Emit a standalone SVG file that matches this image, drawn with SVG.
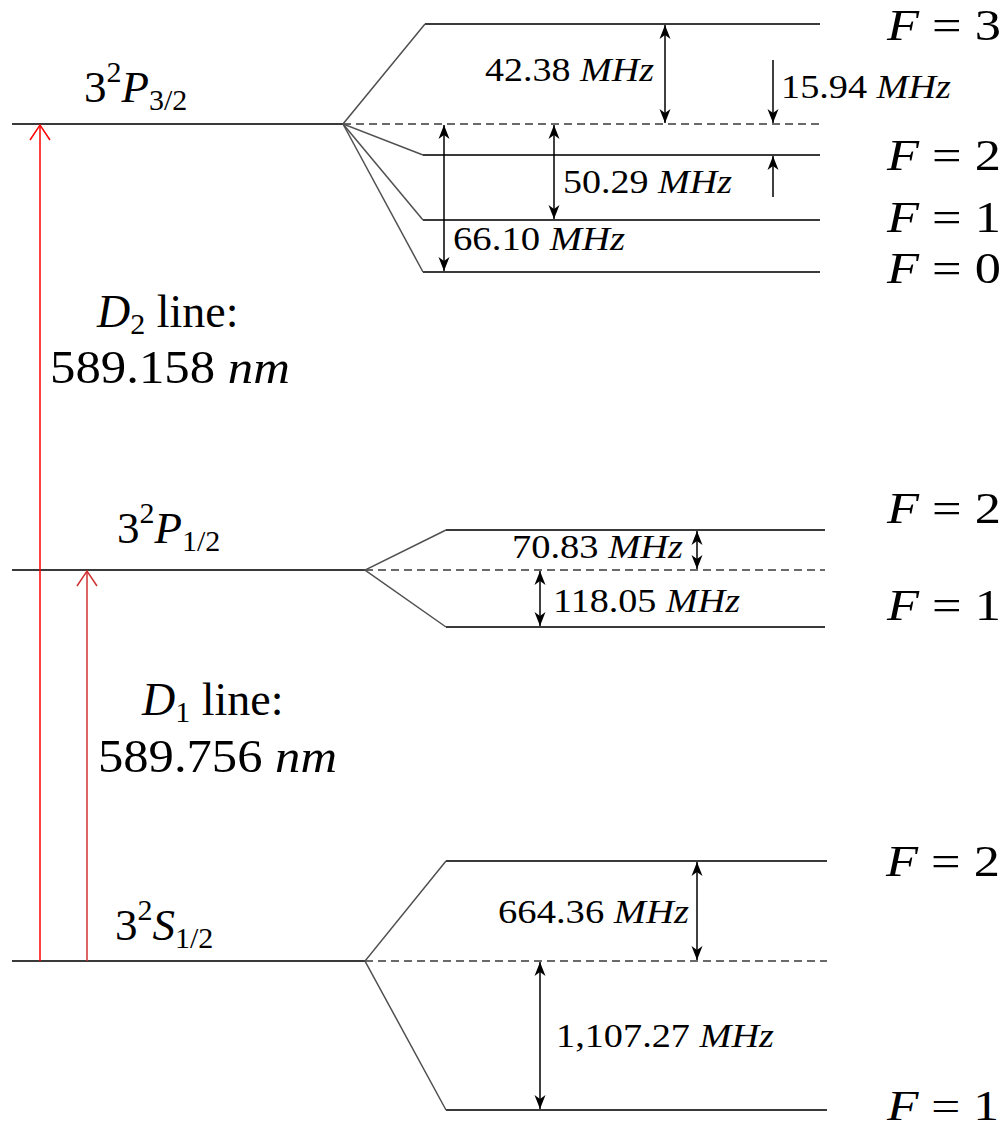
<svg xmlns="http://www.w3.org/2000/svg" width="1004" height="1131" viewBox="0 0 1004 1131">
<defs>
<style>
.lvl{stroke:#3a3a3a;stroke-width:2;fill:none}
.sub{stroke:#3a3a3a;stroke-width:1.8;fill:none}
.dash{stroke:#3a3a3a;stroke-width:1.6;stroke-dasharray:8 5;fill:none}
.fan{stroke:#505050;stroke-width:1.5;fill:none}
.dim{stroke:#000;stroke-width:1.5;fill:none}
.t{font-family:"Liberation Serif","DejaVu Serif",serif;fill:#000}
.mhz{font-size:34px}
.flab{font-size:45px}
.lv{font-size:45px}
.dl{font-size:46px}
.it{font-style:italic}
</style>
<marker id="ah" viewBox="-15 -7 16 14" refX="0" refY="0" markerWidth="16" markerHeight="14" markerUnits="userSpaceOnUse" orient="auto-start-reverse">
<path d="M0,0 L-14,-5.5 L-10,0 L-14,5.5 Z" fill="#000"/>
</marker>
<marker id="rh1" viewBox="-17 -12 19 24" refX="0" refY="0" markerWidth="19" markerHeight="24" markerUnits="userSpaceOnUse" orient="auto">
<path d="M-15,-10 L0,0 L-15,10" fill="none" stroke="#ff0000" stroke-width="1.5"/>
</marker>
<marker id="rh2" viewBox="-17 -12 19 24" refX="0" refY="0" markerWidth="19" markerHeight="24" markerUnits="userSpaceOnUse" orient="auto">
<path d="M-15,-10 L0,0 L-15,10" fill="none" stroke="#d03030" stroke-width="1.5"/>
</marker>
</defs>
<rect width="1004" height="1131" fill="#fff"/>

<!-- 3^2 P3/2 level -->
<g id="P32">
<line class="lvl" x1="12" y1="124" x2="343" y2="124"/>
<line class="dash" x1="343" y1="124" x2="820" y2="124"/>
<text class="t lv" x="84" y="102">3<tspan font-size="30" dy="-20">2</tspan><tspan class="it" dy="20">P</tspan><tspan font-size="30" dy="8">3/2</tspan></text>
</g>
<g id="P32F3">
<line class="sub" x1="425" y1="24" x2="820" y2="24"/>
<text class="t flab" x="887" y="40" textLength="114" lengthAdjust="spacingAndGlyphs"><tspan class="it">F</tspan> = 3</text>
</g>
<g id="P32F2">
<line class="sub" x1="423" y1="155" x2="820" y2="155"/>
<text class="t flab" x="887" y="170" textLength="114" lengthAdjust="spacingAndGlyphs"><tspan class="it">F</tspan> = 2</text>
</g>
<g id="P32F1">
<line class="sub" x1="423" y1="220" x2="820" y2="220"/>
<text class="t flab" x="887" y="232" textLength="114" lengthAdjust="spacingAndGlyphs"><tspan class="it">F</tspan> = 1</text>
</g>
<g id="P32F0">
<line class="sub" x1="423" y1="272" x2="820" y2="272"/>
<text class="t flab" x="887" y="283" textLength="114" lengthAdjust="spacingAndGlyphs"><tspan class="it">F</tspan> = 0</text>
</g>

<!-- 3^2 P1/2 level -->
<g id="P12">
<line class="lvl" x1="12" y1="570" x2="365" y2="570"/>
<line class="dash" x1="365" y1="570" x2="825" y2="570"/>
<text class="t lv" x="117" y="543">3<tspan font-size="30" dy="-20">2</tspan><tspan class="it" dy="20">P</tspan><tspan font-size="30" dy="8">1/2</tspan></text>
</g>
<g id="P12F2">
<line class="sub" x1="446" y1="530" x2="825" y2="530"/>
<text class="t flab" x="887" y="523" textLength="114" lengthAdjust="spacingAndGlyphs"><tspan class="it">F</tspan> = 2</text>
</g>
<g id="P12F1">
<line class="sub" x1="446" y1="627" x2="825" y2="627"/>
<text class="t flab" x="887" y="620" textLength="114" lengthAdjust="spacingAndGlyphs"><tspan class="it">F</tspan> = 1</text>
</g>

<!-- 3^2 S1/2 level -->
<g id="S12">
<line class="lvl" x1="12" y1="961" x2="365" y2="961"/>
<line class="dash" x1="365" y1="961" x2="827" y2="961"/>
<text class="t lv" x="115" y="940">3<tspan font-size="30" dy="-20">2</tspan><tspan class="it" dy="20">S</tspan><tspan font-size="30" dy="8">1/2</tspan></text>
</g>
<g id="S12F2">
<line class="sub" x1="446" y1="861" x2="827" y2="861"/>
<text class="t flab" x="886" y="876" textLength="114" lengthAdjust="spacingAndGlyphs"><tspan class="it">F</tspan> = 2</text>
</g>
<g id="S12F1">
<line class="sub" x1="446" y1="1110" x2="827" y2="1110"/>
<text class="t" font-size="43" x="887" y="1120" textLength="112" lengthAdjust="spacingAndGlyphs"><tspan class="it">F</tspan> = 1</text>
</g>

<!-- transition labels -->
<g id="D2label">
<text class="t dl" x="97" y="327"><tspan class="it">D</tspan><tspan font-size="30" dy="7">2</tspan><tspan dy="-7"> line:</tspan></text>
<text class="t dl" x="50" y="383" textLength="240" lengthAdjust="spacingAndGlyphs">589.158 <tspan class="it">nm</tspan></text>
</g>
<g id="D1label">
<text class="t dl" x="142" y="715"><tspan class="it">D</tspan><tspan font-size="30" dy="7">1</tspan><tspan dy="-7"> line:</tspan></text>
<text class="t dl" x="98" y="772" textLength="239" lengthAdjust="spacingAndGlyphs">589.756 <tspan class="it">nm</tspan></text>
</g>

<!-- splitting labels -->
<g id="labels">
<text class="t mhz" x="485" y="81" textLength="169" lengthAdjust="spacingAndGlyphs">42.38 <tspan class="it">MHz</tspan></text>
<text class="t mhz" x="781" y="98" textLength="170" lengthAdjust="spacingAndGlyphs">15.94 <tspan class="it">MHz</tspan></text>
<text class="t mhz" x="563" y="193" textLength="169" lengthAdjust="spacingAndGlyphs">50.29 <tspan class="it">MHz</tspan></text>
<text class="t mhz" x="453" y="250" textLength="172" lengthAdjust="spacingAndGlyphs">66.10 <tspan class="it">MHz</tspan></text>
<text class="t mhz" x="512" y="558" textLength="171" lengthAdjust="spacingAndGlyphs">70.83 <tspan class="it">MHz</tspan></text>
<text class="t mhz" x="553" y="612" textLength="187" lengthAdjust="spacingAndGlyphs">118.05 <tspan class="it">MHz</tspan></text>
<text class="t mhz" x="498" y="923" textLength="191" lengthAdjust="spacingAndGlyphs">664.36 <tspan class="it">MHz</tspan></text>
<text class="t mhz" x="556" y="1047" textLength="218" lengthAdjust="spacingAndGlyphs">1,107.27 <tspan class="it">MHz</tspan></text>
</g>

<g id="connectors">
<!-- fan lines -->
<polyline class="fan" points="425,24 343,124 423,155"/>
<line class="fan" x1="343" y1="124" x2="423" y2="220"/>
<line class="fan" x1="343" y1="124" x2="423" y2="272"/>
<polyline class="fan" points="446,530 365,570 446,627"/>
<polyline class="fan" points="446,861 365,961 446,1110"/>
<!-- dimension arrows -->
<line class="dim" x1="665" y1="25" x2="665" y2="123" marker-start="url(#ah)" marker-end="url(#ah)"/>
<line class="dim" x1="773" y1="60" x2="773" y2="123" marker-end="url(#ah)"/>
<line class="dim" x1="773" y1="197" x2="773" y2="156" marker-end="url(#ah)"/>
<line class="dim" x1="554" y1="125" x2="554" y2="219" marker-start="url(#ah)" marker-end="url(#ah)"/>
<line class="dim" x1="444" y1="125" x2="444" y2="271" marker-start="url(#ah)" marker-end="url(#ah)"/>
<line class="dim" x1="697" y1="531" x2="697" y2="569" marker-start="url(#ah)" marker-end="url(#ah)"/>
<line class="dim" x1="540" y1="571" x2="540" y2="626" marker-start="url(#ah)" marker-end="url(#ah)"/>
<line class="dim" x1="697" y1="862" x2="697" y2="960" marker-start="url(#ah)" marker-end="url(#ah)"/>
<line class="dim" x1="540" y1="962" x2="540" y2="1109" marker-start="url(#ah)" marker-end="url(#ah)"/>
<!-- transitions -->
<line x1="40" y1="961" x2="40" y2="125" stroke="#ff0000" stroke-width="1.5" marker-end="url(#rh1)"/>
<line x1="87" y1="961" x2="87" y2="571" stroke="#d03030" stroke-width="1.5" marker-end="url(#rh2)"/>
</g>
</svg>
